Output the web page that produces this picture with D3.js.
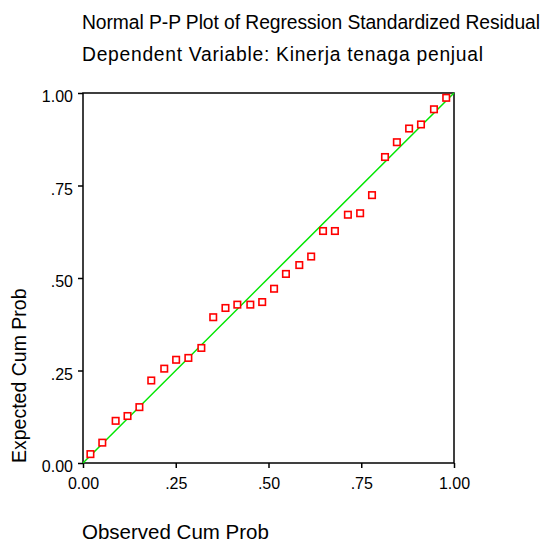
<!DOCTYPE html>
<html>
<head>
<meta charset="utf-8">
<script src="https://cdn.jsdelivr.net/npm/d3@7"></script>
<style>
  body { margin: 0; background: #fff; }
  svg { display: block; font-family: Arial, "Liberation Sans", sans-serif; }
</style>
</head>
<body>
<div id="chart-container"></div>
<script>
/* CONSTANTS AND GLOBALS */
const width = 545,
  height = 542,
  margin = { top: 93, bottom: 79, left: 83, right: 91 };

// titles and labels
const titleLines = ["Normal P-P Plot of Regression Standardized Residual", "Dependent Variable: Kinerja tenaga penjual"];
const titleWidths = [458, 401]; // measured text widths in the reference
const xLabel = "Observed Cum Prob";
const yLabel = "Expected Cum Prob";

// tick values + labels
const tickValues = [0, 0.25, 0.5, 0.75, 1];
const tickLabels = ["0.00", ".25", ".50", ".75", "1.00"];

// observed cum prob (x)
const observed = [0.020, 0.052, 0.088, 0.120, 0.152, 0.184, 0.219, 0.251, 0.284, 0.319,
  0.351, 0.384, 0.416, 0.451, 0.483, 0.515, 0.547, 0.583, 0.615, 0.647,
  0.679, 0.714, 0.747, 0.779, 0.814, 0.846, 0.879, 0.911, 0.946, 0.979];

// expected cum prob (y)
const expected = [0.024, 0.055, 0.114, 0.127, 0.151, 0.223, 0.255, 0.279, 0.284, 0.311,
  0.394, 0.419, 0.428, 0.428, 0.435, 0.471, 0.511, 0.535, 0.558, 0.627,
  0.627, 0.671, 0.675, 0.724, 0.827, 0.867, 0.904, 0.915, 0.956, 0.987];

const data = observed.map((x, i) => ({ x: x, y: expected[i] }));

/* SCALES */
const xScale = d3.scaleLinear()
  .domain([0, 1])
  .range([margin.left, width - margin.right]);

const yScale = d3.scaleLinear()
  .domain([0, 1])
  .range([height - margin.bottom, margin.top]);

/* SVG */
const svg = d3.select("#chart-container")
  .append("svg")
  .attr("width", width)
  .attr("height", height);

// titles
svg.selectAll(".title")
  .data(titleLines)
  .join("text")
  .attr("class", "title")
  .attr("x", 82)
  .attr("y", (d, i) => 28.5 + i * 32)
  .attr("font-size", 19.3)
  .attr("textLength", (d, i) => titleWidths[i])
  .attr("lengthAdjust", "spacing")
  .attr("fill", "#000")
  .text(d => d);

// + AXES
const fmt = d => tickLabels[tickValues.indexOf(d)];

const xAxis = d3.axisBottom(xScale)
  .tickValues(tickValues)
  .tickFormat(fmt)
  .tickSizeInner(5)
  .tickSizeOuter(0)
  .tickPadding(10);

const yAxis = d3.axisLeft(yScale)
  .tickValues(tickValues)
  .tickFormat(fmt)
  .tickSizeInner(5)
  .tickSizeOuter(0)
  .tickPadding(5);

const xAxisGroup = svg.append("g")
  .attr("transform", `translate(0, ${height - margin.bottom})`)
  .call(xAxis);

const yAxisGroup = svg.append("g")
  .attr("transform", `translate(${margin.left}, 0)`)
  .call(yAxis);

[xAxisGroup, yAxisGroup].forEach(g => {
  g.select(".domain").remove();
  g.selectAll("line").attr("stroke", "#000").attr("stroke-width", 1.5);
  g.selectAll("text")
    .attr("font-size", 16)
    .attr("font-family", "Arial, 'Liberation Sans', sans-serif")
    .attr("fill", "#000");
});
yAxisGroup.selectAll("text").attr("dy", "0.55em");

// frame
svg.append("rect")
  .attr("x", xScale(0))
  .attr("y", yScale(1))
  .attr("width", xScale(1) - xScale(0))
  .attr("height", yScale(0) - yScale(1))
  .attr("fill", "none")
  .attr("stroke", "#000")
  .attr("stroke-width", 1.5);

// axis labels
svg.append("text")
  .attr("x", xScale(0) - 1)
  .attr("y", 539)
  .attr("font-size", 20.5)
  .attr("fill", "#000")
  .text(xLabel);

svg.append("text")
  .attr("transform", `translate(26, ${yScale(0)}) rotate(-90)`)
  .attr("font-size", 19.5)
  .attr("fill", "#000")
  .text(yLabel);

// reference line
svg.append("line")
  .attr("x1", xScale(0))
  .attr("y1", yScale(0))
  .attr("x2", xScale(1))
  .attr("y2", yScale(1))
  .attr("stroke", "#00e600")
  .attr("stroke-width", 1.5);

// points
const size = 6.5;
svg.selectAll(".point")
  .data(data)
  .join("rect")
  .attr("class", "point")
  .attr("x", d => xScale(d.x) - size / 2)
  .attr("y", d => yScale(d.y) - size / 2)
  .attr("width", size)
  .attr("height", size)
  .attr("fill", "#fff")
  .attr("stroke", "#ff0000")
  .attr("stroke-width", 1.6);
</script>
</body>
</html>
